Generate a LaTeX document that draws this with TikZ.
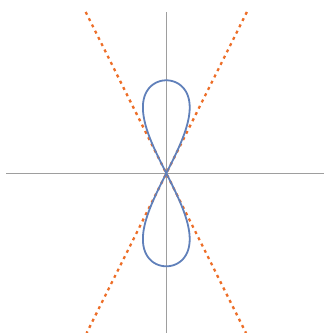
\documentclass[tikz,border=0pt]{standalone}
\begin{document}
\begin{tikzpicture}[x=1pt,y=-1pt]
\definecolor{curveblue}{RGB}{96,128,186}
\definecolor{tangentorange}{RGB}{237,110,40}
\tikzset{
  axis/.style={draw=black!38, line width=0.9pt},
  curve/.style={draw=curveblue, line width=1.8pt},
  tangentline/.style={draw=tangentorange, line width=2.3pt, dash pattern=on 3pt off 4pt},
}
\useasboundingbox (0,0) rectangle (325,333);
\coordinate (O) at (166.3,173.3);
\coordinate (xl) at (6,173.3);
\coordinate (xr) at (324,173.3);
\coordinate (yt) at (166.3,12);
\coordinate (yb) at (166.3,333);
\coordinate (t1a) at (85.7,12);
\coordinate (t1b) at (246,333);
\coordinate (t2a) at (246.9,12);
\coordinate (t2b) at (86.6,333);
\draw[axis] (xl) -- (xr);
\draw[axis] (yt) -- (yb);
\draw[tangentline] (t1a) -- (t1b);
\draw[tangentline] (t2a) -- (t2b);
\draw[curve, smooth] plot[domain=0:360, samples=240] ({166.3+23.4*sin(2*\x)}, {173.3-93*sin(\x)}) -- cycle;
\end{tikzpicture}
\end{document}
